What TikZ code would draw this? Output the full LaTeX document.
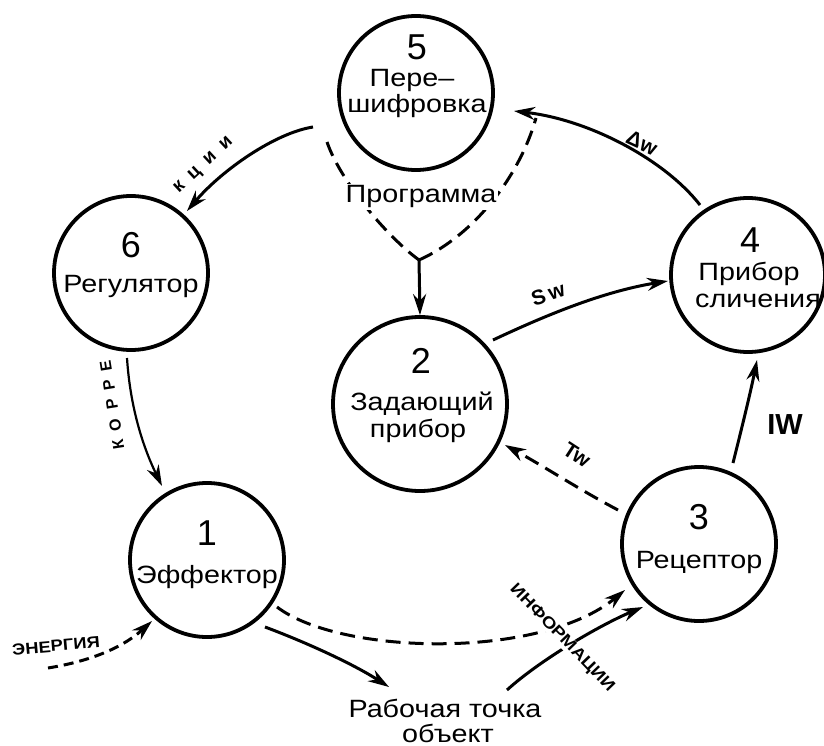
\documentclass[tikz,border=0pt]{standalone}
\usepackage{fontspec}
\newfontfamily\lblfont[FakeStretch=1.15]{Liberation Sans}
\newfontfamily\numfont{Liberation Sans}
\usetikzlibrary{arrows.meta}
\begin{document}
\begin{tikzpicture}[x=1pt,y=-1pt,
  circ/.style={circle,draw,line width=3.8pt,inner sep=0pt,minimum size=154pt},
  numtxt/.style={font=\numfont\fontsize{36}{36}\selectfont,anchor=base,inner sep=0pt},
  lbltxt/.style={font=\lblfont\fontsize{25}{25}\selectfont,anchor=base,inner sep=0pt},
  tagtxt/.style={font=\numfont\bfseries\fontsize{21}{21}\selectfont,inner sep=0pt},
  captxt/.style={font=\numfont\bfseries\fontsize{16}{16}\selectfont,inner sep=1pt},
  flow/.style={line width=3pt,-{Stealth[length=21pt,width=13pt]}},
  dflow/.style={flow,dash pattern=on 15pt off 8pt},
  dline/.style={line width=3pt,dash pattern=on 15pt off 8pt},
]
\path[use as bounding box,fill=white] (0,0) rectangle (824,746);

% circles
\node[circ] (c5) at (416,93) {};
\node[circ] (c6) at (131,273) {};
\node[circ] (c1) at (207,560) {};
\node[circ] (c3) at (699,544) {};
\node[circ] (c4) at (748,275) {};
\node[circ,minimum size=174pt] (c2) at (420,404) {};

% connector end points
\coordinate (k1) at (313,127);  \coordinate (k2) at (187,211);
\coordinate (r1) at (127,358);  \coordinate (r2) at (162,486);
\coordinate (p1) at (327,142);  \coordinate (pj) at (419,260);  \coordinate (p2) at (536,118);
\coordinate (s1) at (493,340);  \coordinate (s2) at (668,281);
\coordinate (d1) at (700,205);  \coordinate (d2) at (514,111);
\coordinate (i1) at (733,463);  \coordinate (i2) at (757,360);
\coordinate (w1) at (618,510);  \coordinate (w2) at (505,445);
\coordinate (o1) at (265,627);  \coordinate (o2) at (389,687);
\coordinate (f1) at (277,607);  \coordinate (f2) at (625,590);
\coordinate (g1) at (507,690);  \coordinate (g2) at (643,607);
\coordinate (e1) at (48,668);   \coordinate (e2) at (152,621);

% connectors
\draw[flow] (k1) .. controls (275,133) and (222,170) .. (k2);
\draw[flow,line width=2.2pt] (r1) .. controls (130,405) and (142,445) .. (r2);
\draw[dline] (p1) .. controls (340,180) and (385,235) .. (pj);
\draw[dline] (pj) .. controls (475,235) and (520,175) .. (p2);
\draw[flow] (pj) -- (c2.north);
\draw[flow] (s1) .. controls (540,318) and (600,292) .. (s2);
\draw[flow] (d1) .. controls (665,160) and (590,120) .. (d2);
\draw[flow] (i1) .. controls (740,435) and (750,395) .. (i2);
\draw[dflow] (w1) .. controls (580,490) and (545,467) .. (w2);
\draw[flow] (o1) .. controls (300,640) and (350,662) .. (o2);
\draw[dflow] (f1) .. controls (340,655) and (540,660) .. (f2);
\draw[flow] (g1) .. controls (540,660) and (600,625) .. (g2);
\draw[dflow,dash pattern=on 10pt off 6pt] (e1) .. controls (85,662) and (120,650) .. (e2);

% circle texts
\node[numtxt] (n5) at (417,60) {5};
\node[lbltxt] (t5a) at (412,87) {Пере–};
\node[lbltxt] (t5b) at (417,113) {шифровка};
\node[numtxt] (n6) at (131,257) {6};
\node[lbltxt] (t6) at (131,292) {Регулятор};
\node[numtxt] (n1) at (207,545) {1};
\node[lbltxt] (t1) at (207,583) {Эффектор};
\node[numtxt] (n3) at (699,529) {3};
\node[lbltxt] (t3) at (699,568) {Рецептор};
\node[numtxt] (n4) at (750,252) {4};
\node[lbltxt] (t4a) at (749,280) {Прибор};
\node[lbltxt] (t4b) at (758,307) {сличения};
\node[numtxt] (n2) at (421,373) {2};
\node[lbltxt] (t2a) at (422,410) {Задающий};
\node[lbltxt] (t2b) at (418,437) {прибор};

% other texts
\node[lbltxt,fill=white,inner sep=2pt] (prog) at (421,203) {Программа};
\node[lbltxt] (work) at (445,717) {Рабочая точка};
\node[lbltxt] (obj) at (448,742) {объект};
\node[tagtxt,rotate=18] (sw) at (548,294) {S\,w};
\node[tagtxt,rotate=-25] (dw) at (642,143) {Δw};
\node[font=\numfont\bfseries\fontsize{29}{29}\selectfont,inner sep=0pt] (iw) at (785,425) {IW};
\node[tagtxt,rotate=-33] (tw) at (577,455) {Tw};
\node[captxt,fill=white,inner sep=0.5pt,rotate=-46] (info) at (562,638) {\scalebox{1.2}[1]{ИНФОРМАЦИИ}};
\node[captxt,rotate=5] (en) at (56,646) {\scalebox{1.15}[1]{ЭНЕРГИЯ}};
\node[captxt,rotate=99] (korr) at (112,405) {К\hspace{9pt}О\hspace{9pt}Р\hspace{9pt}Р\hspace{9pt}Е};
\node[font=\numfont\bfseries\fontsize{19}{19}\selectfont,inner sep=0pt,rotate=43] (kcii) at (204,166) {к\hspace{10pt}ц\hspace{10pt}и\hspace{10pt}и};
\end{tikzpicture}
\end{document}
